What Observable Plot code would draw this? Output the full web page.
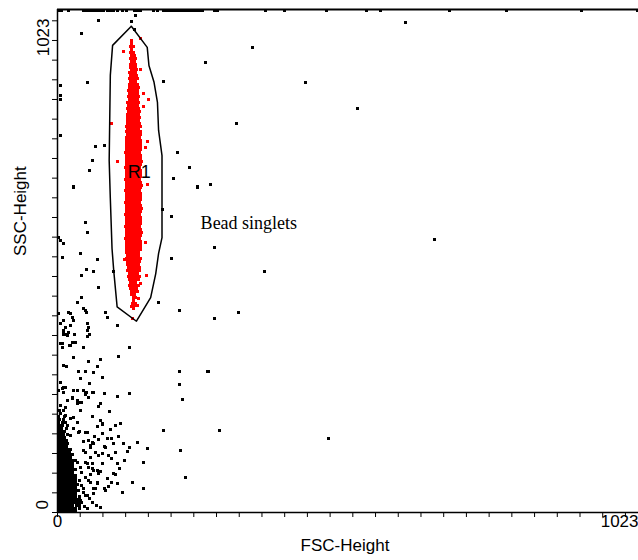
<!DOCTYPE html>
<html>
<head>
<meta charset="utf-8">
<script src="https://cdn.jsdelivr.net/npm/d3@7"></script>
<script src="https://cdn.jsdelivr.net/npm/@observablehq/plot@0.6"></script>
<style>
  html, body { margin: 0; padding: 0; background: #fff; }
  #chart svg { display: block; }
</style>
</head>
<body>
<div id="chart"></div>
<script>
// ---- Axis definitions (channels 0..1023) ----
const channelDomain = [0, 1023];
const tickValues = d3.range(0, 1024, 40);
const xTickLabels = [{ value: 0, label: "0" }, { value: 1023, label: "1023" }];
const yTickLabels = [{ value: 0, label: "0" }, { value: 1023, label: "1023" }];
const xTitle = "FSC-Height";
const yTitle = "SSC-Height";

// ---- Gate R1 polygon (FSC, SSC) ----
const gateX = [130,158,161,170,176,178,184,184,178,173,164,139,105,99,96,93,91,93,97,130];
const gateY = [989,946,909,875,834,777,726,559,527,486,437,389,418,492,537,639,716,889,950,989];
const gateLabel = [{ x: 144, y: 692, text: "R1" }];
const noteLabel = [{ x: 252, y: 588, text: "Bead singlets" }];

// ---- Events inside R1 (red), rows: [SSC, [FSC...]] ----
const redRows = [
 [960,[131]],[954,[130]],[948,[128,133]],[942,[131]],[936,[129,134]],[930,[130,135]],
 [924,[128,133,137]],[918,[131,136]],[912,[129,134,138]],[906,[128,132,137]],[900,[130,135,139]],
 [894,[127,132,137]],[888,[129,134,139]],[882,[127,131,136,140]],[876,[128,133,138]],
 [870,[126,131,136,141]],[864,[127,132,137,142]],[858,[125,130,135,140]],[852,[126,131,136,141]],
 [846,[125,129,134,139,143]],[840,[126,131,136,141]],[834,[124,129,134,139,143]],[828,[125,130,135,140]],
 [822,[124,128,133,138,142]],[816,[125,130,135,140,144]],[810,[123,128,133,138,143]],[804,[124,129,134,139,144]],
 [798,[123,127,132,137,142]],[792,[124,129,134,139,144]],[786,[122,127,132,137,142,146]],[780,[123,128,133,138,143]],
 [774,[122,127,132,137,142,146]],[768,[123,128,133,138,143,147]],[762,[122,126,131,136,141,145]],
 [756,[121,126,131,136,141,146]],[750,[122,127,132,137,142,147]],[744,[121,126,131,136,141,146]],
 [738,[122,127,132,137,142,147]],[732,[120,125,130,135,140,145]],[726,[122,127,132,137,142,147]],
 [720,[121,126,131,136,141,146]],[714,[122,127,132,137,142,148]],[708,[121,126,131,136,141,146]],
 [702,[120,125,130,135,140,145]],[696,[122,127,132,137,142,147]],[690,[121,126,131,136,141,146]],
 [684,[122,127,132,137,142,147]],[678,[120,125,130,135,140,145]],[672,[121,126,131,136,141,146]],
 [666,[122,127,132,137,142,148]],[660,[121,126,131,136,141,146]],[654,[120,125,130,135,140,145]],
 [648,[122,127,132,137,142,147]],[642,[121,126,131,136,141,146]],[636,[122,127,132,137,142,147]],
 [630,[120,125,130,135,140,145]],[624,[121,126,131,136,141,146]],[618,[122,127,132,137,142,148]],
 [612,[121,126,131,136,141,146]],[606,[120,125,130,135,140,145]],[600,[122,127,132,137,142,147]],
 [594,[121,126,131,136,141,146]],[588,[122,127,132,137,142,147]],[582,[120,125,130,135,140,145]],
 [576,[121,126,131,136,141,146]],[570,[122,127,132,137,142,148]],[564,[121,126,131,136,141,146]],
 [558,[120,125,130,135,140,145]],[552,[122,127,132,137,142,147]],[546,[121,126,131,136,141,146]],
 [540,[122,127,132,137,142]],[534,[121,126,131,136,141,146]],[528,[122,127,132,137,142]],
 [522,[123,128,133,138,143]],[516,[122,127,132,137,142,146]],[510,[124,129,134,139,144]],
 [504,[123,128,133,138,143]],[498,[125,130,135,140,145]],[492,[124,129,134,139,144]],
 [486,[126,131,136,141]],[480,[125,130,135,140,145]],[474,[127,132,137,142]],[468,[128,133,138]],
 [462,[127,132,137,142]],[456,[129,134,139]],[450,[130,135,140]],[444,[131,136]],[438,[133,138]],
 [432,[134]],[426,[132,137]],[420,[135]],[414,[134]]
];
const redOutliers = [
 [117,938],[147,964],[147,901],[152,853],[161,839],[152,826],[95,792],[158,755],[155,743],[105,713],
 [158,667],[146,541],[155,550],[118,514],[156,482],[147,466],[142,435],[131,418],[140,421],[132,394]
];

// ---- Events outside R1 (black) ----
// dense debris near the origin, rows: [SSC, [FSC...]]
const debrisRows = [
 [3,[2,7,12,17,22,27,32]],[9,[2,7,12,17,22,27,32,38]],[15,[2,7,12,17,22,27,33,39]],
 [21,[2,7,12,17,22,27,32,37]],[27,[2,7,12,17,22,27,32,36]],[33,[2,7,12,17,22,27,32,38]],
 [39,[2,7,12,17,22,27,32]],[45,[2,7,12,17,22,27,31,37]],[51,[2,7,12,17,22,27,32]],
 [57,[2,7,12,17,22,27,32,36]],[63,[2,7,12,17,22,27,31]],[69,[2,7,12,17,22,27,32]],
 [75,[2,7,12,17,22,26,31]],[81,[2,7,12,17,22,27]],[87,[2,7,12,17,22,27,31]],
 [93,[2,7,12,17,22,27]],[99,[2,7,12,17,22,26]],[105,[2,7,12,17,22,27,31]],
 [111,[2,7,12,17,22]],[117,[2,7,12,17,22,26]],[123,[2,7,12,17,21]],[129,[2,7,12,17,23]],
 [135,[2,7,12,16]],[141,[2,7,12,18]],[147,[2,7,11,16]],[153,[2,7,13]],[159,[2,6,11,17]],
 [165,[3,8,13]],[171,[2,7,15]],[177,[3,9]],[183,[2,8,14]],[189,[4,10]],[195,[2,12]],
 [201,[6]],[207,[3,11]]
];
// scattered events [FSC, SSC]
const scatterEvents = [
 [344,946],[261,915],[187,877],[436,874],[528,822],[315,791],[211,733],[232,702],[205,679],[247,662],
 [270,668],[185,616],[200,603],[663,555],[276,538],[200,517],[365,490],[178,428],[214,411],[276,394],
 [318,407],[214,287],[265,287],[214,260],[220,229],[187,167],[285,167],[477,151],[217,126],[226,72],
 [613,997],[73,1001],[43,974],[130,998],[137,1011],[136,982],
 [52,875],[5,767],[5,868],[5,848],[5,840],[67,744],[82,747],[61,716],[57,696],
 [28,662],[49,589],[52,569],[2,560],[5,553],[10,548],[8,519],[40,527],[70,514],[51,494],[63,490],
 [43,482],[73,458],[43,438],[35,428],[46,414],[49,411],[51,407],[20,407],[23,404],[26,397],[2,404],
 [85,407],[88,397],[5,384],[11,390],[14,377],[30,363],[52,384],[55,377],[53,370],[57,363],[53,357],
 [105,380],[11,367],[16,363],[32,346],[8,343],[46,336],[126,335],[29,316],[108,318],[76,311],[55,308],
 [70,297],[16,296],[37,287],[49,287],[64,285],[40,272],[79,275],[57,263],[5,265],[11,255],[2,248],
 [29,248],[35,248],[46,248],[51,245],[64,245],[82,243],[105,236],[126,243],[17,228],[26,234],[39,224],
 [76,221],[98,491],
 [29,390],[23,380],[11,370],[11,363],[17,360],[20,367],[5,343],[8,336],[26,346],[22,340],[10,299],
 [8,252],[14,255],[11,245],[49,241],[55,234],[61,245],[26,231],[35,228],[43,224],[6,218],[14,214],[40,207],
 [73,216],[92,206],[35,221],[61,195],[76,187],[80,180],[70,175],[102,177],[111,182],[93,168],[39,165],
 [49,163],[52,163],[79,161],[61,143],[64,140],[58,136],[82,134],[99,141],[117,141],[126,133],[124,125],
 [140,143],[158,130],[73,116],[102,123],[61,100],[79,99],[105,99],[49,102],[152,102],[70,85],[76,84],
 [99,80],[102,77],[55,66],[58,62],[132,62],[105,58],[82,48],[85,45],[64,48],[67,48],[90,53],[152,48],
 [46,41],[49,35],[40,24],[43,21],[35,18],
 [35,102],[40,92],[43,82],[38,65],[43,55],[46,48],[39,31],[46,126],[49,123],[52,100],[61,89],[58,77],
 [49,72],[85,133],[90,116],[55,146],
 [14,197],[23,191],[29,194],[35,184],[17,177],[29,170],[37,163],[23,156],
 [58,133],[67,123],[58,112],[55,92],[64,85],[73,79],[64,38],[52,35],[57,28],[61,20],[68,14],[75,10],
 [47,12],[53,8],[45,145],[66,155],[72,148],[88,150],[95,110],[110,90],[118,105],[88,70],[95,62],
 [115,40],[70,60],[80,120],[95,150],[108,155]
];
// events saturated on SSC (piled at the top of the scale)
const saturatedSSC = 1020;
const saturatedFSC = [2,7,20,46,51,56,61,66,71,76,81,88,93,98,106,115,121,135,141,146,169,176,186,191,196,
 201,206,211,216,221,226,231,236,241,246,251,256,276,282,367,400,473,544,569,690,790,923,1021];

// ---- build tables ----
const redEvents = redRows.flatMap(([y, xs]) => xs.map(x => ({x, y})))
  .concat(redOutliers.map(([x, y]) => ({x, y})));
const blackEvents = debrisRows.flatMap(([y, xs]) => xs.map(x => ({x, y})))
  .concat(scatterEvents.map(([x, y]) => ({x, y})))
  .concat(saturatedFSC.map(x => ({x, y: saturatedSSC})));
const gate = gateX.map((x, i) => ({x, y: gateY[i]}));

const sans = "Liberation Sans, Arial, sans-serif";
const dotOpts = {x: "x", y: "y", symbol: "square", r: 1.7, stroke: null, shapeRendering: "crispEdges"};

const chart = Plot.plot({
  width: 638,
  height: 560,
  marginLeft: 57,
  marginRight: 0,
  marginTop: 9,
  marginBottom: 48,
  x: {domain: channelDomain},
  y: {domain: channelDomain},
  style: {background: "#fff", fontFamily: sans, color: "#000"},
  marks: [
    Plot.dot(blackEvents, {...dotOpts, fill: "#000"}),
    Plot.dot(redEvents, {...dotOpts, fill: "#ff0000"}),
    Plot.line(gate, {x: "x", y: "y", stroke: "#000", strokeWidth: 1.5}),
    Plot.axisX({ticks: tickValues, tickSize: 5, tickFormat: () => "", label: null, strokeWidth: 1}),
    Plot.axisY({ticks: tickValues, tickSize: 5, tickFormat: () => "", label: null, strokeWidth: 1}),
    Plot.ruleY([0], {stroke: "#000", strokeWidth: 1.5}),
    Plot.ruleY([1023], {stroke: "#000", strokeWidth: 2}),
    Plot.ruleX([0], {stroke: "#000", strokeWidth: 1.5}),
    Plot.text([xTickLabels[0]], {x: "value", text: "label", frameAnchor: "bottom", dy: 14, fontSize: 17, fontFamily: sans, fill: "#000"}),
    Plot.text([xTickLabels[1]], {x: "value", text: "label", frameAnchor: "bottom", dy: 14, textAnchor: "end", fontSize: 17, fontFamily: sans, fill: "#000"}),
    Plot.text([yTickLabels[0]], {y: "value", text: "label", frameAnchor: "left", dx: -15, dy: -3, rotate: -90, fontSize: 17, fontFamily: sans, fill: "#000"}),
    Plot.text([yTickLabels[1]], {y: "value", text: "label", frameAnchor: "left", dx: -14, dy: 9, rotate: -90, textAnchor: "end", fontSize: 17, fontFamily: sans, fill: "#000"}),
    Plot.text([xTitle], {frameAnchor: "bottom", dy: 38, dx: -3, fontSize: 17, fontFamily: sans, fill: "#000"}),
    Plot.text([yTitle], {frameAnchor: "left", dx: -37, dy: -5, rotate: -90, fontSize: 17, fontFamily: sans, fill: "#000"}),
    Plot.text(gateLabel, {x: "x", y: "y", text: "text", fontSize: 18, fontFamily: sans, fill: "#000"}),
    Plot.text(noteLabel, {x: "x", y: "y", text: "text", textAnchor: "start", fontSize: 18, fontFamily: "Liberation Serif, Times New Roman, serif", fill: "#000"})
  ]
});
document.getElementById("chart").appendChild(chart);
</script>
</body>
</html>
